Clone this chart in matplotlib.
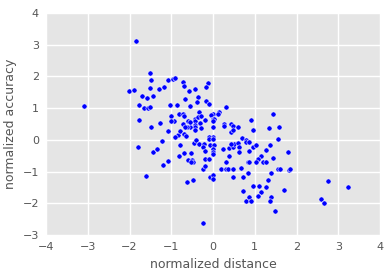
import matplotlib
matplotlib.use("Agg")
import matplotlib.pyplot as plt
import numpy as np

# normalized distance (x) and normalized accuracy (y)
dist = [
    -3.09, -1.84, -2.01, -1.89, -1.50, -1.48, -1.50, -1.70, -1.58, -1.43,
    -1.29, -1.17, -1.07, -0.95, -0.90, -1.77, -1.65, -1.55, -1.50, -1.02,
    -0.86, -1.77, -1.48, -1.26, -1.00, -0.93, -1.00, -0.81, -1.07, -0.83,
    -0.90, -1.79, -1.22, -1.43, -1.34, -1.07, -1.19, -1.60, -0.79, -0.82,
    -0.25, -0.62, -0.47, -0.06, 0.01, 0.01, -0.23, -0.18,
    -0.71, -0.69, -0.57, -0.42, -0.13, -0.16, -0.66, -0.35, -0.54, -0.38,
    -0.16, -0.09, 0.30, -0.71, -0.69, -0.33, -0.59, -0.42, -0.42, -0.42,
    -0.42, -0.35, -0.28, -0.20, -0.30, -0.28, -0.54, -0.62, -0.71, -0.66,
    -0.79, -0.42, -0.69, -0.64, 0.01, -0.04, -0.01, 0.03, 0.01, 0.01,
    0.15, 0.13, 0.27, 0.27, 0.44, 0.47, 0.60, 0.42, 0.49, 0.70,
    0.01, -0.09, -0.54,
    1.43, 0.90, 1.57, 1.33, 0.97, 1.55,
    -0.45, -0.40, -0.33, -0.21, -0.23, -0.09, 0.01, -0.06, 0.03, -0.01,
    0.01, -0.01, -0.18, -0.69, -0.52, -0.59, -0.50, -0.47, -0.52, -0.18,
    -0.09, 0.25, 0.39, 0.49, 0.51, 0.44, 0.59, 0.63, 0.63, 0.39,
    0.32, 0.20, 0.30, 0.37, 0.49, 0.66, 0.47, 0.71,
    0.78, 0.78, 0.87, 0.97, 1.04, 0.87, 1.14, 1.07, 1.02, 1.26,
    1.36, 1.20, 1.26, 1.43, 0.83, 0.87, 0.85, 1.40, 1.55, 1.60,
    1.79, 1.81, 1.84, 1.31, 1.28, 0.95, 1.09, 1.16, 1.07, 0.73,
    0.78, 0.87, 0.90, 1.40, 1.36, 1.69, 1.48, 2.75, 3.23, 2.58,
    2.65,
]
acc = [
    1.08, 3.11, 1.55, 1.58, 2.11, 1.89, 1.64, 1.39, 1.33, 1.39,
    1.61, 1.68, 1.89, 1.93, 1.96, 1.11, 0.99, 1.02, 1.05, 1.11,
    1.11, 0.64, 0.39, 0.52, 0.74, 0.61, 0.58, 0.83, 0.27, 0.14,
    0.08, -0.23, -0.04, -0.39, -0.29, -0.67, -0.79, -1.14, -0.17, -0.51,
    -2.61, -1.32, -1.27, -1.17, -1.11, -1.25, -0.92, -0.83,
    1.83, 1.71, 1.55, 1.61, 1.80, 1.68, 1.30, 1.36, 1.08, 1.18,
    1.21, 1.14, 1.05, 0.80, 0.74, 0.89, 0.58, 0.67, 0.58, 0.48,
    0.40, 0.71, 0.74, 0.64, 0.52, 0.36, 0.39, 0.42, 0.49, 0.39,
    0.27, 0.30, 0.17, 0.11, 0.83, 0.77, 0.67, 0.67, 0.58, 0.39,
    0.89, 0.83, 0.49, 0.43, 0.49, 0.43, 0.41, 0.24, 0.30, 0.07,
    0.08, 0.08, 0.55,
    0.80, 0.64, 0.39, 0.36, 0.30, 0.04,
    -0.11, -0.02, -0.14, -0.14, -0.23, 0.02, 0.02, -0.17, -0.17, -0.29,
    -0.39, -0.45, -0.36, -0.42, -0.42, -0.64, -0.64, -0.70, -0.70, -0.61,
    -0.61, -0.29, -0.26, -0.23, -0.14, -0.14, -0.11, -0.23, -0.39, -0.51,
    -0.70, -0.92, -0.92, -0.92, -0.92, -0.89, -1.17, -1.17,
    -0.01, -0.07, -0.07, -0.23, -0.17, -0.36, -0.51, -0.61, -0.70, -0.33,
    -0.17, -0.70, -0.70, -0.58, -0.70, -0.70, -1.04, -1.04, -0.92, -0.92,
    -0.39, -0.95, -0.92, -1.26, -1.48, -1.45, -1.45, -1.64, -1.76, -1.61,
    -1.92, -1.79, -1.92, -1.79, -1.92, -1.58, -2.23, -1.29, -1.48, -1.86,
    -1.98,
]

text_col = "#555555"
plt.rcParams["font.family"] = "DejaVu Sans"

fig = plt.figure(figsize=(3.89, 2.77), dpi=100)
ax = fig.add_axes([46 / 389, 1 - 235 / 277, 334 / 389, 222 / 277])
ax.set_facecolor("#E5E5E5")
ax.grid(True, color="white", linewidth=1)
ax.set_axisbelow(True)
for s in ax.spines.values():
    s.set_visible(False)

ax.scatter(dist, acc, s=14, color="blue", edgecolor="white", linewidth=0.4, zorder=3)

ax.set_xlim(-4, 4)
ax.set_ylim(-3, 4)
ax.set_xticks(np.arange(-4, 5, 1))
ax.set_yticks(np.arange(-3, 5, 1))
ax.tick_params(length=0, labelsize=8, labelcolor=text_col, pad=5)
ax.set_xlabel("normalized distance", fontsize=9, color=text_col, labelpad=4)
ax.set_ylabel("normalized accuracy", fontsize=9, color=text_col, labelpad=4)

fig.savefig("out.png", dpi=100)
